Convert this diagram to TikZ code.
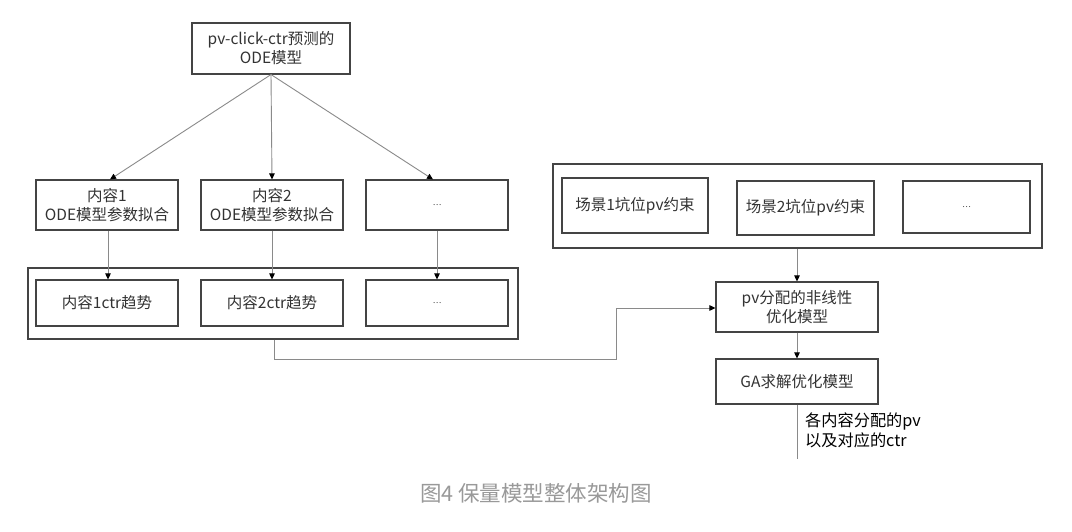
\documentclass[tikz,border=0pt]{standalone}
\usepackage{fontspec}
\setmainfont{Noto Sans CJK SC}
\usetikzlibrary{arrows.meta}
\definecolor{boxline}{HTML}{444444}
\definecolor{conn}{HTML}{8A8A8A}
\definecolor{txt}{HTML}{333333}
\definecolor{cap}{HTML}{999999}
\tikzset{
  box/.style={draw=boxline, line width=1.1pt, rectangle, inner sep=0pt, align=center,
    text=txt, font=\fontsize{15.5}{19}\selectfont},
  frame/.style={draw=boxline, line width=1.1pt, rectangle, inner sep=0pt},
  conn/.style={draw=conn, line width=0.9pt, -{Triangle[length=6pt,width=5.5pt,color=black]}},
  plain/.style={draw=conn, line width=0.9pt},
  dots/.style={text=txt!70, font=\fontsize{8}{10}\selectfont}
}
\begin{document}
\begin{tikzpicture}[x=1pt,y=-1pt]
\useasboundingbox[fill=white] (0,0) rectangle (1072,532);

% top
\node[box, minimum width=158pt, minimum height=51pt] (top) at (271,48.5) {pv-click-ctr预测的\\ODE模型};

% row 1
\node[box, minimum width=142pt, minimum height=50pt] (f1) at (107,205) {内容1\\ODE模型参数拟合};
\node[box, minimum width=142pt, minimum height=50pt] (f2) at (272,205) {内容2\\ODE模型参数拟合};
\node[box, minimum width=142pt, minimum height=50pt] (f3) at (437,205) {\fontsize{8}{10}\selectfont …};

% container row 2
\node[frame, minimum width=490pt, minimum height=71pt] (c1) at (273,303.5) {};
\node[box, minimum width=142pt, minimum height=46pt] (t1) at (107,303) {内容1ctr趋势};
\node[box, minimum width=142pt, minimum height=46pt] (t2) at (272,303) {内容2ctr趋势};
\node[box, minimum width=142pt, minimum height=46pt] (t3) at (437,303) {\fontsize{8}{10}\selectfont …};

% right container
\node[frame, minimum width=489pt, minimum height=84pt] (c2) at (797.5,206) {};
\node[box, minimum width=146pt, minimum height=55pt] (s1) at (635,205.5) {场景1坑位pv约束};
\node[box, minimum width=137pt, minimum height=54pt] (s2) at (805.5,208) {场景2坑位pv约束};
\node[box, minimum width=127pt, minimum height=52pt] (s3) at (966.5,207) {\fontsize{8}{10}\selectfont …};

% optimisation
\node[box, minimum width=162pt, minimum height=50pt] (opt) at (797,307) {pv分配的非线性\\优化模型};
\node[box, minimum width=162pt, minimum height=45pt] (ga) at (797,381.5) {GA求解优化模型};

% connectors
\draw[conn] (top.south) -- (f1.north -| 110,0);
\draw[conn] (top.south) -- (f2.north);
\draw[conn] (top.south) -- (f3.north -| 433,0);
\draw[conn] (f1.south -| 108,0) -- (t1.north -| 108,0);
\draw[conn] (f2.south) -- (t2.north);
\draw[conn] (f3.south) -- (t3.north);
\draw[conn] (c1.south -| 274,0) -- (274,359) -- (616,359) -- (616,308) -- (opt.west |- 0,308);
\draw[conn] (c2.south -| opt.north) -- (opt.north);
\draw[conn] (opt.south) -- (ga.north);
\coordinate (out) at (797,459);
\draw[plain] (ga.south) -- (out);

\node[anchor=north west, align=left, inner sep=0pt, text=black,
  font=\fontsize{16.2}{20}\selectfont] (lbl) at (805,413) {各内容分配的pv\\以及对应的ctr};

% caption
\node[text=cap, font=\fontsize{21.5}{24}\selectfont] (caption) at (536,493) {图4 保量模型整体架构图};
\end{tikzpicture}
\end{document}
